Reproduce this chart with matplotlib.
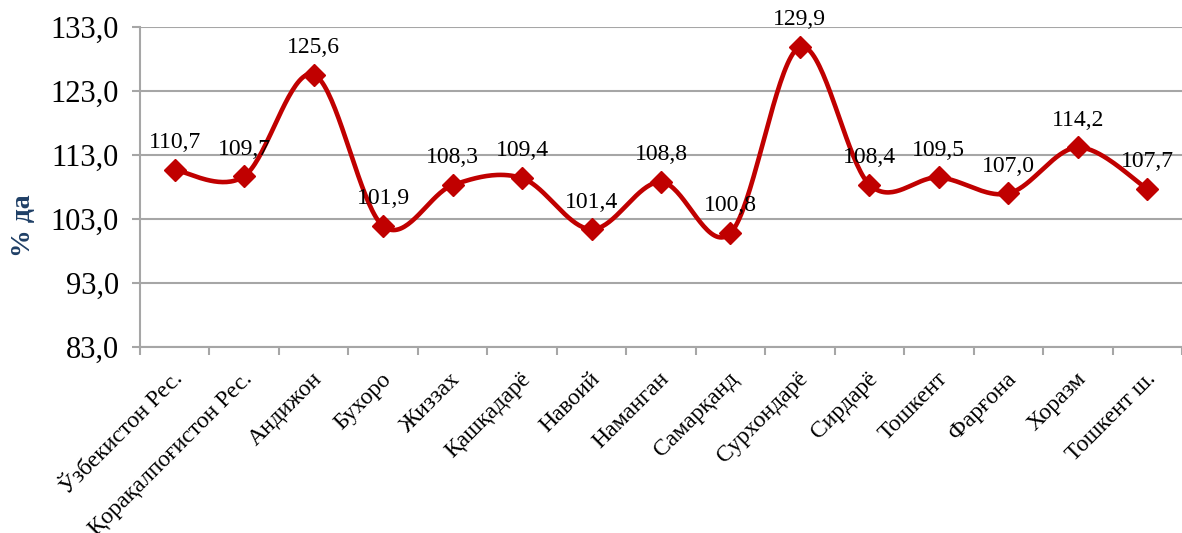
import numpy as np
import matplotlib
matplotlib.use('Agg')
import matplotlib.pyplot as plt
from matplotlib.transforms import ScaledTranslation

regions = ['Ўзбекистон Рес.', 'Қорақалпоғистон Рес.', 'Андижон', 'Бухоро', 'Жиззах',
           'Қашқадарё', 'Навоий', 'Наманган', 'Самарқанд', 'Сурхондарё', 'Сирдарё',
           'Тошкент', 'Фарғона', 'Хоразм', 'Тошкент ш.']
values = [110.7, 109.7, 125.6, 101.9, 108.3, 109.4, 101.4, 108.8, 100.8, 129.9,
          108.4, 109.5, 107.0, 114.2, 107.7]
y_ticks = [83.0, 93.0, 103.0, 113.0, 123.0, 133.0]

RED = '#C00000'
GRID = '#A6A6A6'
plt.rcParams['font.family'] = ['Liberation Serif', 'DejaVu Serif']


def smooth(x, y, n=40):
    # Catmull-Rom style smoothing, like Excel "smoothed line"
    x = np.asarray(x, float)
    y = np.asarray(y, float)
    px, py = [], []
    for i in range(len(x) - 1):
        x0, y0 = (x[i - 1], y[i - 1]) if i > 0 else (x[i], y[i])
        x3, y3 = (x[i + 2], y[i + 2]) if i + 2 < len(x) else (x[i + 1], y[i + 1])
        x1, y1, x2, y2 = x[i], y[i], x[i + 1], y[i + 1]
        c1x, c1y = x1 + (x2 - x0) / 6, y1 + (y2 - y0) / 6
        c2x, c2y = x2 - (x3 - x1) / 6, y2 - (y3 - y1) / 6
        t = np.linspace(0, 1, n)
        px.extend((1 - t) ** 3 * x1 + 3 * (1 - t) ** 2 * t * c1x + 3 * (1 - t) * t ** 2 * c2x + t ** 3 * x2)
        py.extend((1 - t) ** 3 * y1 + 3 * (1 - t) ** 2 * t * c1y + 3 * (1 - t) * t ** 2 * c2y + t ** 3 * y2)
    return px, py


fig = plt.figure(figsize=(11.82, 5.33), dpi=100)
ax = fig.add_axes([0.1184, 0.349, 0.8816, 0.6])

x = np.arange(len(regions))
sx, sy = smooth(x, values)
ax.plot(sx, sy, color=RED, linewidth=3.3, solid_capstyle='round', zorder=3)
ax.plot(x, values, linestyle='none', marker='D', markersize=11, color=RED, zorder=4)

for xi, v in zip(x, values):
    ax.annotate(f'{v:.1f}'.replace('.', ','), (xi, v), xytext=(0, 12), textcoords='offset points',
                ha='center', va='bottom', fontsize=17, color='black', zorder=5)

ax.set_xlim(-0.5, len(regions) - 0.5)
ax.set_ylim(83, 133)
ax.set_yticks(y_ticks)
ax.set_yticklabels([f'{t:.1f}'.replace('.', ',') for t in y_ticks], fontsize=22)
ax.yaxis.grid(True, color=GRID, linewidth=1.5)
ax.set_axisbelow(True)

# category boundary ticks, labels placed by hand below the axis
ax.set_xticks(np.arange(-0.5, len(regions), 1))
ax.set_xticklabels([])
ax.tick_params(axis='x', length=6, width=1.5, color=GRID, direction='out')
ax.tick_params(axis='y', length=6, width=1.5, color=GRID, pad=9)

lbl_tr = ax.get_xaxis_transform() + ScaledTranslation(0.05, -0.29, fig.dpi_scale_trans)
for xi, name in zip(x, regions):
    ax.text(xi, 0, name, transform=lbl_tr, rotation=45, rotation_mode='anchor',
            ha='right', va='center', fontsize=17, clip_on=False)

for s in ['top', 'right']:
    ax.spines[s].set_visible(False)
for s in ['left', 'bottom']:
    ax.spines[s].set_color(GRID)
    ax.spines[s].set_linewidth(1.5)

ax.set_ylabel('% да', fontsize=20, fontweight='bold', color='#1F3F66')
ax.yaxis.set_label_coords(-0.1, 0.38)

fig.savefig('out.png', dpi=100)
